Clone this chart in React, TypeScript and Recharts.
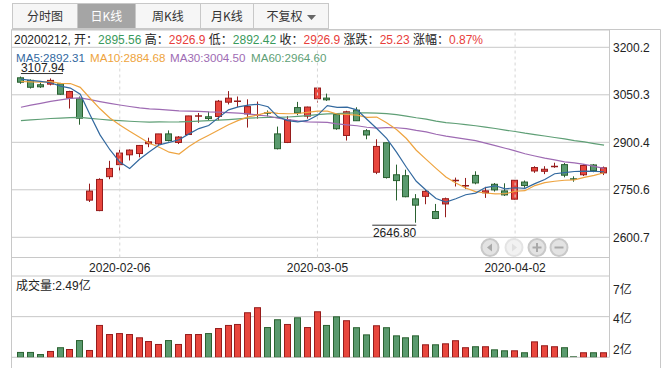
import React from "react";
import {
  ComposedChart,
  Bar,
  Line,
  XAxis,
  YAxis,
  CartesianGrid,
  ReferenceLine,
  ReferenceDot,
} from "recharts";

const dates = [
  "2020-01-15", "2020-01-16", "2020-01-17", "2020-01-20", "2020-01-21", "2020-01-22", "2020-01-23", "2020-02-03", "2020-02-04", "2020-02-05",
  "2020-02-06", "2020-02-07", "2020-02-10", "2020-02-11", "2020-02-12", "2020-02-13", "2020-02-14", "2020-02-17", "2020-02-18", "2020-02-19",
  "2020-02-20", "2020-02-21", "2020-02-24", "2020-02-25", "2020-02-26", "2020-02-27", "2020-02-28", "2020-03-02", "2020-03-03", "2020-03-04",
  "2020-03-05", "2020-03-06", "2020-03-09", "2020-03-10", "2020-03-11", "2020-03-12", "2020-03-13", "2020-03-16", "2020-03-17", "2020-03-18",
  "2020-03-19", "2020-03-20", "2020-03-23", "2020-03-24", "2020-03-25", "2020-03-26", "2020-03-27", "2020-03-30", "2020-03-31", "2020-04-01",
  "2020-04-02", "2020-04-03", "2020-04-07", "2020-04-08", "2020-04-09", "2020-04-10", "2020-04-13", "2020-04-14", "2020-04-15", "2020-04-16",
];

const opens = [
  3104, 3096, 3082, 3084, 3085, 3040, 3038, 2718, 2685, 2792,
  2830, 2861, 2865, 2896, 2895.56, 2927, 2900, 2925, 2982, 2981,
  2982, 3027, 3028, 2990, 2985, 2995, 2927, 2900, 3010, 2983,
  3038, 3040, 2988, 2922, 3002, 2937, 2806, 2899, 2798, 2795,
  2722, 2730, 2682, 2706, 2779, 2762, 2796, 2741, 2768, 2747,
  2721, 2775, 2810, 2809, 2823, 2830, 2787, 2798, 2829, 2804,
];
const highs = [
  3107.94, 3099, 3089, 3102, 3088, 3063, 3045, 2770, 2787, 2842,
  2877, 2878, 2892, 2915, 2926.9, 2938, 2920, 2984, 2993, 2997,
  3034, 3062, 3045, 3036, 3029, 3001, 2950, 2983, 3028, 3013,
  3074.5, 3054, 2990, 3000, 3011, 2942, 2910, 2900, 2830, 2814,
  2737, 2752, 2706, 2726, 2789, 2788, 2809, 2760, 2772, 2771,
  2781, 2780, 2825, 2825, 2836, 2835, 2793, 2832, 2832, 2824,
];
const lows = [
  3085, 3070, 3072, 3080, 3050, 3007, 2956, 2712, 2683, 2784,
  2811, 2843, 2853, 2885, 2892.42, 2903, 2895, 2924, 2962, 2970,
  2970, 3020, 3012, 2947, 2975, 2982, 2878, 2898, 2986, 2975,
  3026, 3031, 2940, 2906, 2968, 2910, 2800, 2786, 2717, 2727,
  2646.8, 2705, 2658, 2664, 2761, 2753, 2768, 2725, 2745, 2731,
  2720, 2757, 2804, 2800, 2820, 2790, 2776, 2794, 2806, 2797,
];
const closes = [
  3090.04, 3074.08, 3075.5, 3095.79, 3052.14, 3060.75, 2976.53, 2746.61, 2783.29, 2818.09,
  2866.51, 2875.96, 2890.49, 2901.67, 2926.9, 2906.07, 2917.01, 2983.62, 2984.97, 2975.4,
  3030.15, 3039.67, 3031.23, 3013.05, 2987.93, 2991.33, 2880.3, 2970.93, 2992.9, 3011.67,
  3071.68, 3034.51, 2943.29, 2996.76, 2968.52, 2923.49, 2887.43, 2789.25, 2779.64, 2728.76,
  2702.13, 2745.62, 2660.17, 2722.44, 2781.59, 2764.91, 2772.2, 2747.21, 2750.3, 2734.52,
  2780.64, 2763.99, 2820.76, 2815.37, 2825.9, 2796.63, 2783.05, 2827.28, 2811.17, 2819.94,
];
// 成交量, 亿
const volumes = [
  2.0, 2.0, 1.87, 2.06, 2.29, 2.18, 2.73, 2.12, 3.66, 3.1,
  3.16, 3.1, 2.9, 2.67, 2.49, 2.73, 2.49, 3.1, 3.1, 3.16,
  3.47, 3.66, 3.72, 4.44, 4.75, 3.53, 4.01, 3.72, 4.13, 3.53,
  4.5, 3.66, 4.19, 3.95, 3.52, 3.08, 3.64, 3.52, 3.02, 2.9,
  3.02, 2.47, 2.47, 2.53, 2.72, 2.29, 2.35, 2.35, 2.16, 2.1,
  2.1, 1.98, 2.65, 2.41, 2.35, 2.29, 1.67, 1.98, 1.98, 1.98,
];
const ma5 = [
  3099.92, 3095.76, 3092.4, 3088.45, 3077.51, 3071.65, 3052.14, 2986.36, 2923.86, 2877.05,
  2838.21, 2818.09, 2846.87, 2870.54, 2892.31, 2900.22, 2908.43, 2927.05, 2943.71, 2953.41,
  2978.23, 3002.76, 3012.28, 3017.9, 3020.41, 3012.64, 2980.77, 2968.71, 2964.68, 2969.43,
  2985.5, 3016.34, 3010.81, 3011.58, 3002.95, 2973.31, 2943.9, 2913.09, 2869.67, 2821.71,
  2777.44, 2749.08, 2723.26, 2711.82, 2722.39, 2734.95, 2740.26, 2757.67, 2763.24, 2753.83,
  2756.97, 2755.33, 2770.04, 2783.06, 2801.33, 2804.53, 2808.34, 2809.65, 2808.81, 2807.61,
];
const ma10 = [
  3092.37, 3091.26, 3090.43, 3091.67, 3086.4, 3085.79, 3073.95, 3039.38, 3006.16, 2977.28,
  2954.93, 2935.12, 2916.62, 2897.2, 2884.68, 2869.21, 2863.26, 2886.96, 2907.13, 2922.86,
  2939.22, 2955.6, 2969.67, 2980.81, 2986.91, 2995.44, 2991.77, 2990.5, 2991.29, 2994.92,
  2999.07, 2998.55, 2989.76, 2988.13, 2986.19, 2979.41, 2980.12, 2961.95, 2940.62, 2912.33,
  2875.38, 2846.49, 2818.18, 2790.75, 2772.05, 2756.19, 2744.67, 2740.47, 2737.53, 2738.11,
  2745.96, 2747.8, 2763.86, 2773.15, 2777.58, 2780.75, 2781.84, 2789.84, 2795.93, 2804.47,
];
const ma30 = [
  3010.95, 3017.49, 3023.35, 3029.48, 3034.07, 3038.85, 3040.59, 3034.95, 3028.8, 3023.26,
  3018.06, 3013.36, 3009.14, 3005.7, 3004.5, 3001.95, 2999.79, 2999.0, 2998.33, 2996.17,
  2995.51, 2993.99, 2992.24, 2989.89, 2986.0, 2983.48, 2976.33, 2972.28, 2968.19, 2965.02,
  2964.41, 2963.09, 2958.68, 2955.38, 2952.59, 2948.02, 2945.05, 2946.47, 2946.35, 2943.37,
  2937.89, 2933.55, 2925.87, 2919.89, 2915.05, 2910.35, 2905.52, 2897.64, 2889.82, 2881.79,
  2873.47, 2864.28, 2857.26, 2850.67, 2845.27, 2838.78, 2835.54, 2830.75, 2824.7, 2818.31,
];
const ma60 = [
  2968.79, 2971.01, 2973.26, 2975.61, 2976.81, 2978.58, 2979.2, 2976.16, 2973.25, 2970.62,
  2968.54, 2966.83, 2965.36, 2964.32, 2964.6, 2964.45, 2964.65, 2965.88, 2967.44, 2968.54,
  2970.15, 2972.29, 2974.42, 2976.54, 2977.91, 2979.31, 2978.93, 2980.28, 2982.3, 2984.56,
  2987.68, 2990.29, 2991.02, 2992.43, 2993.33, 2993.43, 2992.82, 2990.71, 2987.58, 2983.31,
  2977.98, 2973.45, 2967.5, 2962.8, 2959.78, 2956.15, 2952.65, 2948.32, 2944.07, 2938.98,
  2934.49, 2929.13, 2924.75, 2920.28, 2915.64, 2911.13, 2905.93, 2901.52, 2896.44, 2891.66,
];

const priceTicks = [2600.7, 2750.6, 2900.4, 3050.3, 3200.2];
const volTicks = [1.67, 4.17, 6.67];
const dateTicks = ["2020-02-06", "2020-03-05", "2020-04-02"];
const tabs = ["分时图", "日K线", "周K线", "月K线", "不复权"];
const tabWidths = [65, 58, 65, 53, 75];
const selected = 14;

const FONT = '"Liberation Sans", "Noto Sans CJK SC", sans-serif';
const RED = "#e8463d";
const RED_DARK = "#961c1c";
const GREEN = "#5a9a6e";
const GREEN_DARK = "#2a6130";
const TXT_RED = "#e8403b";
const TXT_GREEN = "#3a9a5c";
const GRID = "#c8c8c8";
const MA_COLORS = { ma5: "#33699f", ma10: "#eea440", ma30: "#9e6bb3", ma60: "#5f9f76" };

const rows = dates.map((date, i) => ({
  date,
  range: [lows[i], highs[i]],
  open: opens[i],
  high: highs[i],
  low: lows[i],
  close: closes[i],
  vol: volumes[i],
  ma5: ma5[i],
  ma10: ma10[i],
  ma30: ma30[i],
  ma60: ma60[i],
}));

const maxHigh = Math.max(...highs);
const maxIdx = highs.indexOf(maxHigh);
const minLow = Math.min(...lows);
const minIdx = lows.indexOf(minLow);

function Candle(props: any) {
  const { x, y, width, height, payload } = props;
  const top = Math.min(y, y + height);
  const h = Math.abs(height);
  const span = payload.high - payload.low;
  const k = span > 0 ? h / span : 0;
  const py = (v: number) => top + (payload.high - v) * k;
  const up = payload.close >= payload.open;
  const cx = Math.floor(x + width / 2) + 0.5;
  const bTop = py(Math.max(payload.open, payload.close));
  const bBot = py(Math.min(payload.open, payload.close));
  const dark = up ? RED_DARK : GREEN_DARK;
  return (
    <g>
      <line x1={cx} x2={cx} y1={top} y2={top + h} stroke={dark} strokeWidth={1} />
      {bBot - bTop < 1.5 ? (
        <line x1={cx - 3.5} x2={cx + 3.5} y1={(bTop + bBot) / 2} y2={(bTop + bBot) / 2} stroke={dark} strokeWidth={1.5} />
      ) : (
        <rect x={cx - 3} y={bTop} width={6} height={bBot - bTop} fill={up ? RED : GREEN} stroke={dark} strokeWidth={1} />
      )}
    </g>
  );
}

function VolBar(props: any) {
  const { x, y, width, height, payload } = props;
  const top = Math.min(y, y + height);
  const h = Math.abs(height);
  const up = payload.close >= payload.open;
  const cx = Math.floor(x + width / 2) + 0.5;
  const dark = up ? RED_DARK : GREEN_DARK;
  if (h < 1.5) {
    return <line x1={cx - 3.5} x2={cx + 3.5} y1={top + h - 0.5} y2={top + h - 0.5} stroke={dark} strokeWidth={1} />;
  }
  return <rect x={cx - 3} y={top + 0.5} width={6} height={h - 0.5} fill={up ? RED : GREEN} stroke={dark} strokeWidth={1} />;
}

function PriceTick(props: any) {
  return (
    <text x={613} y={props.y} dy={4.5} fontSize={12} fill="#222" fontFamily={FONT}>
      {props.payload.value}
    </text>
  );
}

function VolTick(props: any) {
  const v = props.payload.value;
  const dy = v === volTicks[2] ? 15 : v === volTicks[0] ? -3.5 : 6;
  return (
    <text x={613} y={props.y} dy={dy} fontSize={12} fill="#222" fontFamily={FONT}>
      {Math.round(v) + "亿"}
    </text>
  );
}

function DateTick(props: any) {
  return (
    <text x={props.x} y={272} textAnchor="middle" fontSize={12} fill="#222" fontFamily={FONT}>
      {props.payload.value}
    </text>
  );
}

function MaxLabel(props: any) {
  const { cx, cy } = props;
  return (
    <g>
      <text x={cx} y={cy - 5} fontSize={12} fill="#222" fontFamily={FONT}>
        {maxHigh.toFixed(2)}
      </text>
      <line x1={cx} x2={cx + 42} y1={cy - 3} y2={cy - 3} stroke="#333" strokeWidth={1} />
    </g>
  );
}

function MinLabel(props: any) {
  const { cx, cy } = props;
  return (
    <g>
      <line x1={cx - 44} x2={cx} y1={cy + 2.5} y2={cy + 2.5} stroke="#333" strokeWidth={1} />
      <text x={cx} y={cy + 14.5} textAnchor="end" fontSize={12} fill="#222" fontFamily={FONT}>
        {minLow.toFixed(2)}
      </text>
    </g>
  );
}

function NavButtons() {
  const cy = 247.5;
  const btns = [490, 514, 537, 559];
  return (
    <svg width={668} height={368} style={{ position: "absolute", left: 0, top: 0, pointerEvents: "none" }}>
      {btns.map((cx, i) => {
        const dim = i === 1;
        const ring = dim ? "#e4e4e4" : "#c9c9c9";
        const fill = dim ? "#f2f2f2" : "#e3e3e3";
        const ic = dim ? "#e0e0e0" : "#a9a9a9";
        return (
          <g key={cx}>
            <circle cx={cx} cy={cy} r={8.5} fill={fill} stroke={ring} strokeWidth={2} />
            {i === 0 && <polygon points={`${cx + 2},${cy - 4} ${cx + 2},${cy + 4} ${cx - 3},${cy}`} fill={ic} />}
            {i === 1 && <polygon points={`${cx - 2},${cy - 4} ${cx - 2},${cy + 4} ${cx + 3},${cy}`} fill={ic} />}
            {i >= 2 && <line x1={cx - 4.5} x2={cx + 4.5} y1={cy} y2={cy} stroke={ic} strokeWidth={2} />}
            {i === 2 && <line x1={cx} x2={cx} y1={cy - 4.5} y2={cy + 4.5} stroke={ic} strokeWidth={2} />}
          </g>
        );
      })}
    </svg>
  );
}

export default function App() {
  const s = selected;
  const chg = closes[s] - closes[s - 1];
  const pct = (chg / closes[s - 1]) * 100;
  const colorOf = (v: number) => (v >= closes[s - 1] ? TXT_RED : TXT_GREEN);
  const legend = [
    { key: "ma5", label: "MA5", left: 16 },
    { key: "ma10", label: "MA10", left: 90 },
    { key: "ma30", label: "MA30", left: 170 },
    { key: "ma60", label: "MA60", left: 251 },
  ];
  const maVals: Record<string, number[]> = { ma5, ma10, ma30, ma60 };

  let tabLeft = 12;
  return (
    <div
      style={{
        position: "absolute",
        left: 0,
        top: 0,
        width: 668,
        height: 368,
        background: "#fff",
        overflow: "hidden",
        fontFamily: FONT,
        fontSize: 12,
        color: "#222",
      }}
    >
      {/* frame */}
      <svg width={668} height={368} style={{ position: "absolute", left: 0, top: 0 }}>
        <line x1={11.5} x2={660.5} y1={29.5} y2={29.5} stroke={GRID} />
        <line x1={11.5} x2={11.5} y1={29.5} y2={368} stroke={GRID} />
        <line x1={609.5} x2={609.5} y1={29.5} y2={357.5} stroke={GRID} />
        <line x1={660.5} x2={660.5} y1={29.5} y2={368} stroke={GRID} />
        <line x1={11.5} x2={609.5} y1={257.5} y2={257.5} stroke={GRID} />
      </svg>

      {/* tabs */}
      {tabs.map((t, i) => {
        const left = tabLeft;
        tabLeft += tabWidths[i];
        const sel = i === 1;
        return (
          <div
            key={t}
            style={{
              position: "absolute",
              left,
              top: 3,
              width: tabWidths[i] + 1,
              height: 26,
              boxSizing: "border-box",
              border: `1px solid ${GRID}`,
              background: sel ? "#a5a5a5" : "#f6f6f6",
              color: sel ? "#fff" : "#333",
              fontFamily: '"Noto Sans CJK SC", sans-serif',
              fontSize: 12,
              lineHeight: "24px",
              textAlign: "center",
            }}
          >
            {t}
            {i === 4 && (
              <svg width={9} height={6} style={{ marginLeft: 4, verticalAlign: "middle" }}>
                <polygon points="0,0 9,0 4.5,5" fill="#666" />
              </svg>
            )}
          </div>
        );
      })}

      <div style={{ position: "absolute", left: 0, top: 0 }}>
        <ComposedChart width={668} height={280} data={rows} margin={{ top: 30, right: 0, bottom: 0, left: 12 }}>
          <CartesianGrid vertical={false} stroke={GRID} />
          <XAxis
            dataKey="date"
            ticks={dateTicks}
            interval={0}
            tick={<DateTick />}
            tickLine={false}
            axisLine={false}
            height={22.5}
            padding={{ left: 4, right: 0 }}
          />
          <YAxis
            orientation="right"
            type="number"
            domain={[2536.96, 3254.8]}
            allowDataOverflow
            ticks={priceTicks}
            tick={<PriceTick />}
            tickLine={false}
            axisLine={false}
            width={59}
          />
          {dateTicks.map((d) => (
            <ReferenceLine key={d} x={d} stroke="#d6d6d6" strokeDasharray="3 3" />
          ))}
          <Bar dataKey="range" barSize={7} shape={<Candle />} isAnimationActive={false} />
          <Line dataKey="ma60" stroke={MA_COLORS.ma60} strokeWidth={1.2} dot={false} isAnimationActive={false} />
          <Line dataKey="ma30" stroke={MA_COLORS.ma30} strokeWidth={1.2} dot={false} isAnimationActive={false} />
          <Line dataKey="ma10" stroke={MA_COLORS.ma10} strokeWidth={1.2} dot={false} isAnimationActive={false} />
          <Line dataKey="ma5" stroke={MA_COLORS.ma5} strokeWidth={1.2} dot={false} isAnimationActive={false} />
          <ReferenceDot x={dates[maxIdx]} y={maxHigh} r={0} shape={(p: any) => <MaxLabel {...p} />} />
          <ReferenceDot x={dates[minIdx]} y={minLow} r={0} shape={(p: any) => <MinLabel {...p} />} />
        </ComposedChart>
      </div>

      <div style={{ position: "absolute", left: 0, top: 270 }}>
        <ComposedChart width={668} height={98} data={rows} margin={{ top: 6, right: 0, bottom: 10.7, left: 12 }}>
          <CartesianGrid vertical={false} stroke={GRID} />
          <XAxis dataKey="date" hide padding={{ left: 4, right: 0 }} />
          <YAxis
            orientation="right"
            type="number"
            domain={[volTicks[0], volTicks[2]]}
            allowDataOverflow
            ticks={volTicks}
            tick={<VolTick />}
            tickLine={false}
            axisLine={false}
            width={59}
          />
          <Bar dataKey="vol" barSize={7} shape={<VolBar />} isAnimationActive={false} />
        </ComposedChart>
      </div>

      {/* header info */}
      <div style={{ position: "absolute", left: 14, top: 32, whiteSpace: "nowrap", lineHeight: "16px" }}>
        {dates[s].replace(/-/g, "")}, 开：<span style={{ color: colorOf(opens[s]) }}>{opens[s]}</span> 高：
        <span style={{ color: colorOf(highs[s]) }}>{highs[s]}</span> 低：
        <span style={{ color: colorOf(lows[s]) }}>{lows[s]}</span> 收：
        <span style={{ color: colorOf(closes[s]) }}>{closes[s]}</span> 涨跌：
        <span style={{ color: chg >= 0 ? TXT_RED : TXT_GREEN }}>{chg.toFixed(2)}</span> 涨幅：
        <span style={{ color: chg >= 0 ? TXT_RED : TXT_GREEN }}>{pct.toFixed(2)}%</span>
      </div>
      {legend.map((l) => (
        <div
          key={l.key}
          style={{
            position: "absolute",
            left: l.left,
            top: 51.5,
            fontSize: 11.6,
            lineHeight: "11px",
            whiteSpace: "nowrap",
            color: (MA_COLORS as any)[l.key],
          }}
        >
          {l.label}:{maVals[l.key][s].toFixed(2)}
        </div>
      ))}

      <div style={{ position: "absolute", left: 16, top: 278, lineHeight: "16px", whiteSpace: "nowrap" }}>
        成交量:{volumes[s].toFixed(2)}亿
      </div>

      <NavButtons />
    </div>
  );
}
